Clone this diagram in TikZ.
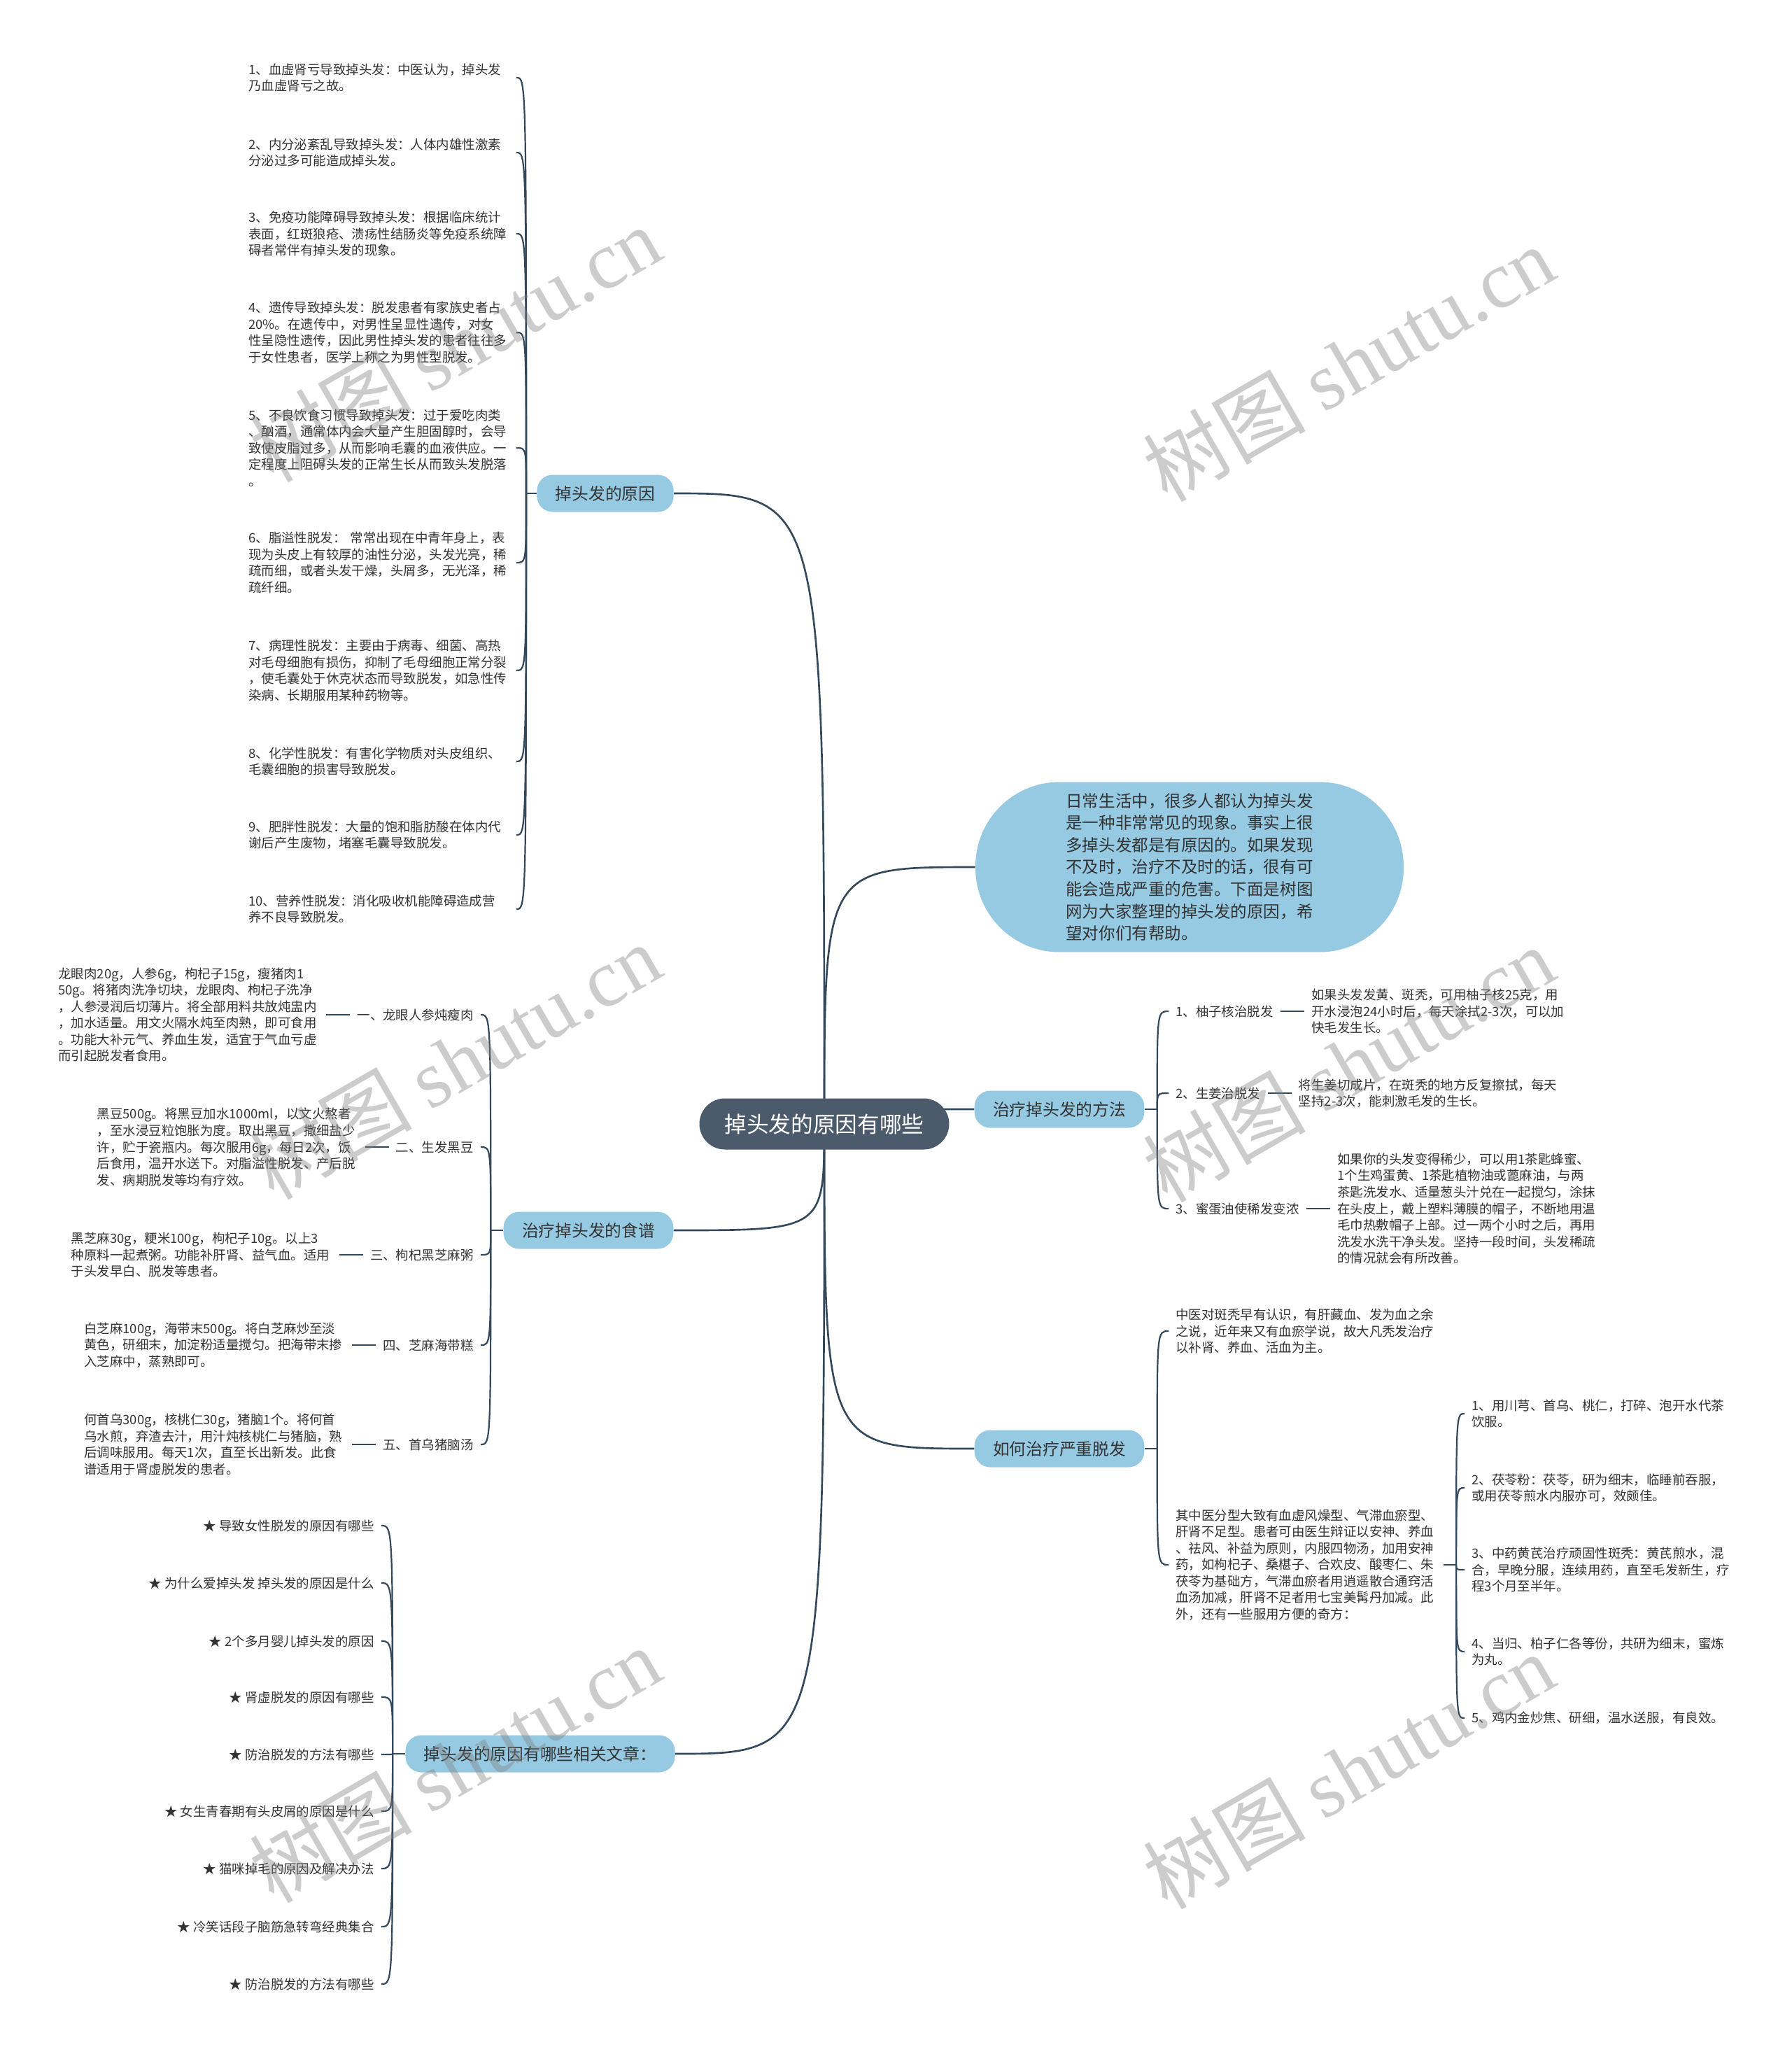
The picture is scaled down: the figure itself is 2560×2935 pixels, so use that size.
\documentclass[tikz,border=0pt]{standalone}
\usepackage{fontspec}
\setmainfont{Noto Sans CJK SC}
\newfontfamily\wmfont{Liberation Serif}
\usetikzlibrary{positioning,backgrounds}

\definecolor{linec}{HTML}{34485C}
\definecolor{rootc}{HTML}{4B5B6C}
\definecolor{bluec}{HTML}{96CAE3}
\definecolor{txtc}{HTML}{333333}

\tikzset{
    rootbox/.style={fill=rootc, text=white, rounded corners=0.73cm, minimum width=7.14cm, minimum height=1.46cm, font=\fontsize{18}{22}\selectfont},
    topic/.style={fill=bluec, text=txtc, rounded corners=0.45cm, inner xsep=0.53cm, minimum height=1.06cm, font=\fontsize{13.5}{16}\selectfont},
    introbox/.style={fill=bluec, text=txtc, rounded corners=2.4cm, minimum width=12.24cm, minimum height=4.86cm, align=left, font=\fontsize{13.4}{18}\selectfont},
    leaf/.style={align=left, text width=7.45cm, inner xsep=0.2cm, inner ysep=0.05cm, text=txtc, font=\fontsize{10.5}{13.4}\selectfont},
    tagbox/.style={inner xsep=0.2cm, inner ysep=0.05cm, text=txtc, font=\fontsize{10.5}{13.4}\selectfont},
    limb/.style={draw=linec, line width=1.5pt},
    twig/.style={draw=linec, line width=1.25pt},
    wmark/.style={rotate=30, text=gray, text opacity=0.4, font=\fontsize{66}{70}\selectfont}
}

% curve from a fork point to a node: vertical first, then flat
\newcommand{\limbto}[2]{\draw[limb] (#1) .. controls (#1 |- #2) .. (#2);}
\newcommand{\twigto}[2]{\draw[twig] (#1) .. controls (#1 |- #2) .. (#2);}

\begin{document}
\begin{tikzpicture}[x=0.02cm, y=-0.02cm]
    \useasboundingbox (0,0) rectangle (2560,2935);

    % centre
    \node[rootbox] (root) at (1178,1606) {掉头发的原因有哪些};

    % main topics
    \node[topic] (cause) at (865,705) {掉头发的原因};
    \node[introbox] (intro) at (1700,1239) {日常生活中，很多人都认为掉头发\\是一种非常常见的现象。事实上很\\多掉头发都是有原因的。如果发现\\不及时，治疗不及时的话，很有可\\能会造成严重的危害。下面是树图\\网为大家整理的掉头发的原因，希\\望对你们有帮助。};
    \node[topic] (method) at (1514,1585) {治疗掉头发的方法};
    \node[topic] (recipe) at (841,1758) {治疗掉头发的食谱};
    \node[topic] (severe) at (1514,2070) {如何治疗严重脱发};
    \node[topic] (related) at (772,2506) {掉头发的原因有哪些相关文章：};

    % causes
    \node[leaf, anchor=west] (c1) at (345,111) {1、血虚肾亏导致掉头发：中医认为，掉头发\\乃血虚肾亏之故。};
    \node[leaf, anchor=west] (c2) at (345,218) {2、内分泌紊乱导致掉头发：人体内雄性激素\\分泌过多可能造成掉头发。};
    \node[leaf, anchor=west] (c3) at (345,334) {3、免疫功能障碍导致掉头发：根据临床统计\\表面，红斑狼疮、溃疡性结肠炎等免疫系统障\\碍者常伴有掉头发的现象。};
    \node[leaf, anchor=west] (c4) at (345,475) {4、遗传导致掉头发：脱发患者有家族史者占\\20\%。在遗传中，对男性呈显性遗传，对女\\性呈隐性遗传，因此男性掉头发的患者往往多\\于女性患者，医学上称之为男性型脱发。};
    \node[leaf, anchor=west] (c5) at (345,640) {5、不良饮食习惯导致掉头发：过于爱吃肉类\\、酗酒，通常体内会大量产生胆固醇时，会导\\致使皮脂过多，从而影响毛囊的血液供应。一\\定程度上阻碍头发的正常生长从而致头发脱落\\。};
    \node[leaf, anchor=west] (c6) at (345,804) {6、脂溢性脱发： 常常出现在中青年身上，表\\现为头皮上有较厚的油性分泌，头发光亮，稀\\疏而细，或者头发干燥，头屑多，无光泽，稀\\疏纤细。};
    \node[leaf, anchor=west] (c7) at (345,958) {7、病理性脱发：主要由于病毒、细菌、高热\\对毛母细胞有损伤，抑制了毛母细胞正常分裂\\，使毛囊处于休克状态而导致脱发，如急性传\\染病、长期服用某种药物等。};
    \node[leaf, anchor=west] (c8) at (345,1088) {8、化学性脱发：有害化学物质对头皮组织、\\毛囊细胞的损害导致脱发。};
    \node[leaf, anchor=west] (c9) at (345,1193) {9、肥胖性脱发：大量的饱和脂肪酸在体内代\\谢后产生废物，堵塞毛囊导致脱发。};
    \node[leaf, anchor=west] (c10) at (345,1299) {10、营养性脱发：消化吸收机能障碍造成营\\养不良导致脱发。};

    % recipes
    \node[tagbox, anchor=east] (r1) at (687,1450) {一、龙眼人参炖瘦肉};
    \node[tagbox, anchor=east] (r2) at (687,1639) {二、生发黑豆};
    \node[tagbox, anchor=east] (r3) at (687,1793) {三、枸杞黑芝麻粥};
    \node[tagbox, anchor=east] (r4) at (687,1922) {四、芝麻海带糕};
    \node[tagbox, anchor=east] (r5) at (687,2064) {五、首乌猪脑汤};
    \node[leaf, left=0.68cm of r1] (rt1) {龙眼肉20g，人参6g，枸杞子15g，瘦猪肉1\\50g。将猪肉洗净切块，龙眼肉、枸杞子洗净\\，人参浸润后切薄片。将全部用料共放炖盅内\\，加水适量。用文火隔水炖至肉熟，即可食用\\。功能大补元气、养血生发，适宜于气血亏虚\\而引起脱发者食用。};
    \node[leaf, left=0.68cm of r2] (rt2) {黑豆500g。将黑豆加水1000ml，以文火熬者\\，至水浸豆粒饱胀为度。取出黑豆，撒细盐少\\许，贮于瓷瓶内。每次服用6g，每日2次，饭\\后食用，温开水送下。对脂溢性脱发、产后脱\\发、病期脱发等均有疗效。};
    \node[leaf, left=0.68cm of r3] (rt3) {黑芝麻30g，粳米100g，枸杞子10g。以上3\\种原料一起煮粥。功能补肝肾、益气血。适用\\于头发早白、脱发等患者。};
    \node[leaf, left=0.68cm of r4] (rt4) {白芝麻100g，海带末500g。将白芝麻炒至淡\\黄色，研细末，加淀粉适量搅匀。把海带末掺\\入芝麻中，蒸熟即可。};
    \node[leaf, left=0.68cm of r5] (rt5) {何首乌300g，核桃仁30g，猪脑1个。将何首\\乌水煎，弃渣去汁，用汁炖核桃仁与猪脑，熟\\后调味服用。每天1次，直至长出新发。此食\\谱适用于肾虚脱发的患者。};

    % related articles
    \node[tagbox, anchor=east] (a1) at (545,2180) {★ 导致女性脱发的原因有哪些};
    \node[tagbox, anchor=east] (a2) at (545,2262) {★ 为什么爱掉头发 掉头发的原因是什么};
    \node[tagbox, anchor=east] (a3) at (545,2345) {★ 2个多月婴儿掉头发的原因};
    \node[tagbox, anchor=east] (a4) at (545,2425) {★ 肾虚脱发的原因有哪些};
    \node[tagbox, anchor=east] (a5) at (545,2507) {★ 防治脱发的方法有哪些};
    \node[tagbox, anchor=east] (a6) at (545,2588) {★ 女生青春期有头皮屑的原因是什么};
    \node[tagbox, anchor=east] (a7) at (545,2670) {★ 猫咪掉毛的原因及解决办法};
    \node[tagbox, anchor=east] (a8) at (545,2753) {★ 冷笑话段子脑筋急转弯经典集合};
    \node[tagbox, anchor=east] (a9) at (545,2835) {★ 防治脱发的方法有哪些};

    % treatments
    \node[tagbox, anchor=west] (m1) at (1670,1445) {1、柚子核治脱发};
    \node[tagbox, anchor=west] (m2) at (1670,1562) {2、生姜治脱发};
    \node[tagbox, anchor=west] (m3) at (1670,1727) {3、蜜蛋油使稀发变浓};
    \node[leaf, right=0.68cm of m1] (mt1) {如果头发发黄、斑秃，可用柚子核25克，用\\开水浸泡24小时后，每天涂拭2-3次，可以加\\快毛发生长。};
    \node[leaf, right=0.68cm of m2] (mt2) {将生姜切成片，在斑秃的地方反复擦拭，每天\\坚持2-3次，能刺激毛发的生长。};
    \node[leaf, right=0.68cm of m3] (mt3) {如果你的头发变得稀少，可以用1茶匙蜂蜜、\\1个生鸡蛋黄、1茶匙植物油或蓖麻油，与两\\茶匙洗发水、适量葱头汁兑在一起搅匀，涂抹\\在头皮上，戴上塑料薄膜的帽子，不断地用温\\毛巾热敷帽子上部。过一两个小时之后，再用\\洗发水洗干净头发。坚持一段时间，头发稀疏\\的情况就会有所改善。};

    % severe loss
    \node[leaf, anchor=west] (s1) at (1670,1902) {中医对斑秃早有认识，有肝藏血、发为血之余\\之说，近年来又有血瘀学说，故大凡秃发治疗\\以补肾、养血、活血为主。};
    \node[leaf, anchor=west] (s2) at (1670,2236) {其中医分型大致有血虚风燥型、气滞血瘀型、\\肝肾不足型。患者可由医生辩证以安神、养血\\、祛风、补益为原则，内服四物汤，加用安神\\药，如枸杞子、桑椹子、合欢皮、酸枣仁、朱\\茯苓为基础方，气滞血瘀者用逍遥散合通窍活\\血汤加减，肝肾不足者用七宝美髯丹加减。此\\外，还有一些服用方便的奇方：};
    \node[leaf, anchor=west] (sc1) at (2093,2020) {1、用川芎、首乌、桃仁，打碎、泡开水代茶\\饮服。};
    \node[leaf, anchor=west] (sc2) at (2093,2126) {2、茯苓粉：茯苓，研为细末，临睡前吞服，\\或用茯苓煎水内服亦可，效颇佳。};
    \node[leaf, anchor=west] (sc3) at (2093,2243) {3、中药黄芪治疗顽固性斑秃：黄芪煎水，混\\合，早晚分服，连续用药，直至毛发新生，疗\\程3个月至半年。};
    \node[leaf, anchor=west] (sc4) at (2093,2360) {4、当归、柏子仁各等份，共研为细末，蜜炼\\为丸。};
    \node[leaf, anchor=west] (sc5) at (2093,2455) {5、鸡内金炒焦、研细，温水送服，有良效。};

    % connectors
    \begin{scope}[on background layer]
        \fill[white] (0,0) rectangle (2560,2935);
        \limbto{root.center}{cause.east}
        \limbto{root.center}{intro.west}
        \limbto{root.center}{method.west}
        \limbto{root.center}{recipe.east}
        \limbto{root.center}{severe.west}
        \limbto{root.center}{related.east}

        \coordinate (cfork) at ([xshift=-0.3cm]cause.west);
        \draw[twig] (cause.west) -- (cfork);
        \foreach \i in {1,...,10} {\twigto{cfork}{c\i.east}}

        \coordinate (rfork) at ([xshift=-0.36cm]recipe.west);
        \draw[twig] (recipe.west) -- (rfork);
        \foreach \i in {1,...,5} {
            \twigto{rfork}{r\i.east}
            \draw[twig] (rt\i.east) -- (r\i.west);
        }

        \coordinate (afork) at ([xshift=-0.36cm]related.west);
        \draw[twig] (related.west) -- (afork);
        \foreach \i in {1,...,9} {\twigto{afork}{a\i.east}}

        \coordinate (mfork) at ([xshift=0.36cm]method.east);
        \draw[twig] (method.east) -- (mfork);
        \foreach \i in {1,...,3} {
            \twigto{mfork}{m\i.west}
            \draw[twig] (m\i.east) -- (mt\i.west);
        }

        \coordinate (sfork) at ([xshift=0.36cm]severe.east);
        \draw[twig] (severe.east) -- (sfork);
        \twigto{sfork}{s1.west}
        \twigto{sfork}{s2.west}

        \coordinate (scfork) at ([xshift=0.36cm]s2.east);
        \draw[twig] (s2.east) -- (scfork);
        \foreach \i in {1,...,5} {\twigto{scfork}{sc\i.west}}
    \end{scope}

    % watermarks
    \foreach \wx/\wy [count=\k] in {650/491, 1927/519, 650/1516, 1927/1520, 650/2521, 1927/2530}
        \node[wmark] (wm\k) at (\wx,\wy) {树图 {\wmfont shutu.cn}};

\end{tikzpicture}
\end{document}
